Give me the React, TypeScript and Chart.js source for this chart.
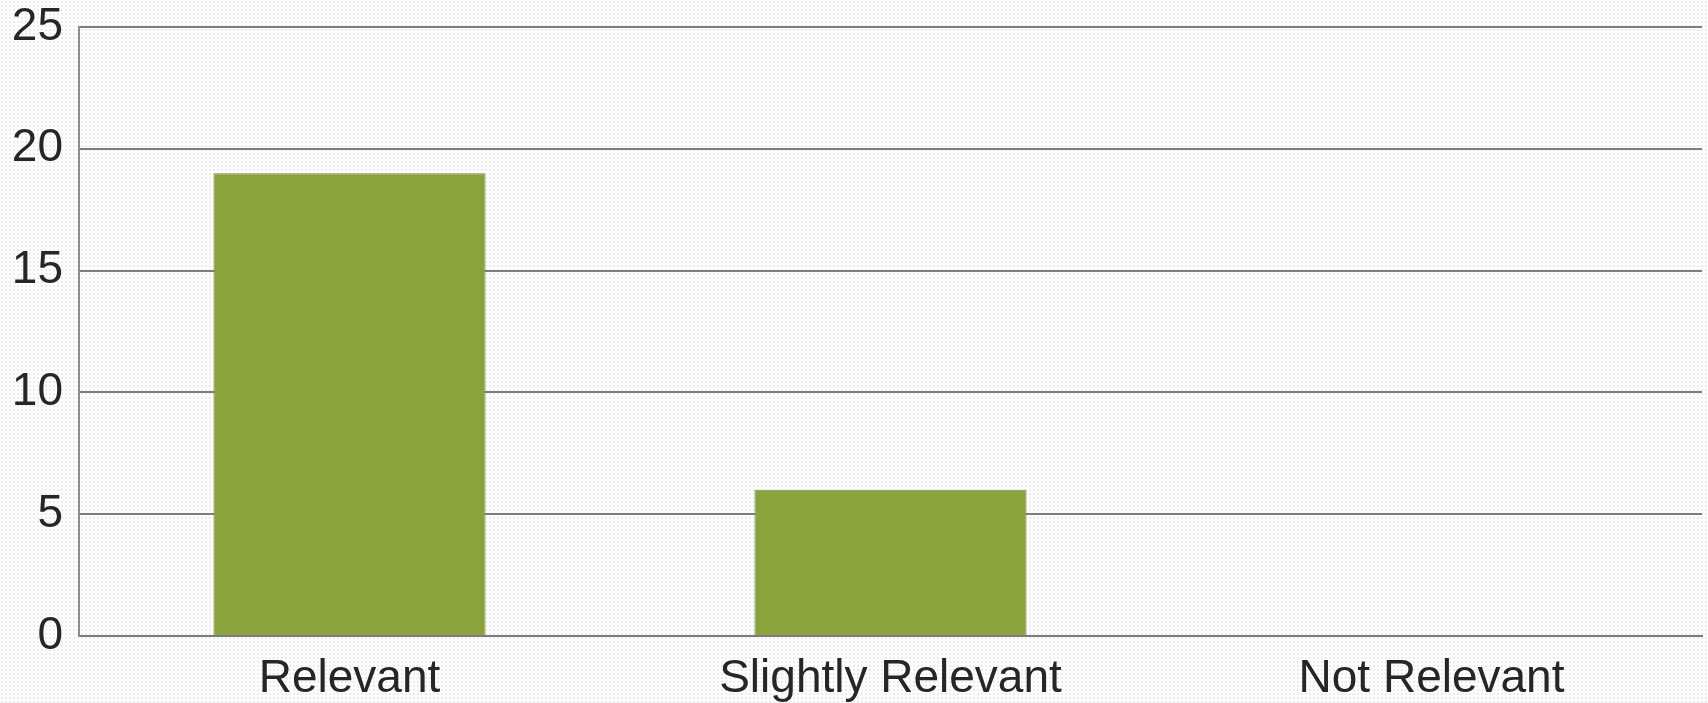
import React, { useEffect, useRef } from "react";
import { Chart, registerables } from "chart.js";

Chart.register(...registerables);

const categories = ["Relevant", "Slightly Relevant", "Not Relevant"];
const counts = [19, 6, 0];
const yTicks = [0, 5, 10, 15, 20, 25];

export default function App() {
  const ref = useRef<HTMLCanvasElement | null>(null);

  useEffect(() => {
    document.body.style.margin = "0";
    const ctx = ref.current;
    if (!ctx) return;
    const chart = new Chart(ctx, {
      type: "bar",
      data: {
        labels: categories,
        datasets: [
          {
            data: counts,
            backgroundColor: "#8AA33D",
            borderColor: "#7F8F45",
            borderWidth: 1,
            barPercentage: 0.503,
            categoryPercentage: 1,
          },
        ],
      },
      options: {
        responsive: false,
        animation: false,
        maintainAspectRatio: false,
        layout: { padding: { top: 27, right: 6, left: 0, bottom: 0 } },
        plugins: { legend: { display: false }, tooltip: { enabled: false } },
        scales: {
          x: {
            grid: { display: false, drawTicks: false },
            border: { display: true, color: "#7d7d7d", width: 2 },
            ticks: {
              color: "#262626",
              padding: 16,
              font: { family: "'Liberation Sans', Arial, sans-serif", size: 46 },
              maxRotation: 0,
              autoSkip: false,
            },
            afterFit: (s: any) => {
              s.height = 67;
              s.paddingLeft = 0;
              s.paddingRight = 0;
            },
          },
          y: {
            min: 0,
            max: 25,
            afterBuildTicks: (s: any) => {
              s.ticks = yTicks.map((v) => ({ value: v }));
            },
            grid: { color: "#7d7d7d", lineWidth: 2, drawTicks: false },
            border: { display: true, color: "#8c8c8c", width: 2 },
            ticks: {
              color: "#262626",
              padding: 16,
              font: { family: "'Liberation Sans', Arial, sans-serif", size: 46, lineHeight: 1 },
            },
            afterFit: (s: any) => {
              s.width = 79;
              s.paddingTop = 0;
              s.paddingBottom = 0;
            },
          },
        },
      },
    });
    return () => chart.destroy();
  }, []);

  return (
    <div
      style={{
        width: 1708,
        height: 703,
        backgroundColor: "#fdfdfd",
        backgroundImage: "radial-gradient(#ececec 0.8px, transparent 1.1px)",
        backgroundSize: "4px 4px",
      }}
    >
      <canvas ref={ref} width={1708} height={703} style={{ display: "block" }} />
    </div>
  );
}
